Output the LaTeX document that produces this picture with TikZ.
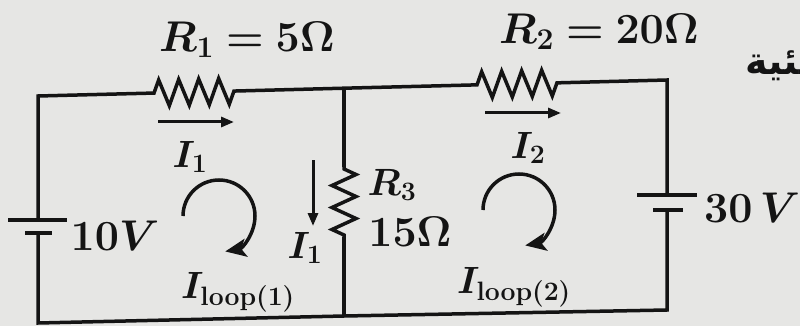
\RequirePackage{fix-cm}
\documentclass[tikz,border=0pt]{standalone}
\usepackage{fontspec}
\usepackage{amsmath}
\usepackage{bm}
\usetikzlibrary{arrows.meta,decorations.pathmorphing}
\newfontfamily\arabicfont[Script=Arabic]{DejaVu Sans}
\TeXXeTstate=1
\definecolor{bg}{RGB}{230,230,228}
\definecolor{ink}{RGB}{20,20,20}
\begin{document}
\begin{tikzpicture}[x=1pt,y=-1pt,
  wire/.style={line width=3.5pt, draw=ink},
  plate/.style={line width=4pt, draw=ink},
  resistor/.style={wire, decorate, decoration={zigzag, segment length=20pt, amplitude=13pt, pre length=2pt, post length=6pt}},
  resistorv/.style={wire, decorate, decoration={zigzag, segment length=22pt, amplitude=12pt, pre length=2pt, post length=2pt}},
  curr/.style={line width=3pt, draw=ink, -{Triangle[length=13pt,width=10pt]}},
  looparr/.style={line width=3.5pt, draw=ink, -{Stealth[length=21pt,width=18pt,inset=5pt]}},
  lab/.style={text=ink, inner sep=0pt, font=\fontsize{43}{50}\selectfont},
  slab/.style={text=ink, inner sep=0pt, font=\fontsize{38}{46}\selectfont}]
\clip (0,0) rectangle (800,326);
\fill[bg] (0,0) rectangle (800,326);
% corners and junctions
\coordinate (tl) at (38,96);
\coordinate (r1a) at (152,93.1);
\coordinate (r1b) at (240,90.9);
\coordinate (tm) at (344,88.2);
\coordinate (r2a) at (475,84.9);
\coordinate (r2b) at (563,82.7);
\coordinate (tr) at (667,80);
\coordinate (bl) at (38,323);
\coordinate (bm) at (344,316);
\coordinate (br) at (667,310);
\coordinate (r3a) at (344,167);
\coordinate (r3b) at (344,237);
% batteries
\coordinate (b1p) at (38,220);
\coordinate (b1n) at (38,233);
\coordinate (b2p) at (667,195);
\coordinate (b2n) at (667,210);
% wires
\draw[wire] (b1p) -- (tl) -- (r1a);
\draw[resistor] (r1a) -- (r1b);
\draw[wire] (r1b) -- (tm) -- (r2a);
\draw[resistor] (r2a) -- (r2b);
\draw[wire] (r2b) -- (tr) -- (b2p);
\draw[wire] (b2n) -- (br) -- (bm) -- (bl) -- (b1n);
\draw[wire] (tm) -- (r3a);
\draw[resistorv] (r3a) -- (r3b);
\draw[wire] (r3b) -- (bm);
% battery plates
\draw[plate] ([xshift=-30pt]b1p) -- ([xshift=29pt]b1p);
\draw[plate] ([xshift=-13pt]b1n) -- ([xshift=14pt]b1n);
\draw[plate] ([xshift=-30pt]b2p) -- ([xshift=30pt]b2p);
\draw[plate] ([xshift=-14pt]b2n) -- ([xshift=16pt]b2n);
% current arrows
\coordinate (a1s) at (158,122); \coordinate (a1e) at (234,122);
\coordinate (a2s) at (485,113); \coordinate (a2e) at (561,113);
\coordinate (a3s) at (313,160); \coordinate (a3e) at (313,226);
\draw[curr] (a1s) -- (a1e);
\draw[curr] (a2s) -- (a2e);
\draw[curr] (a3s) -- (a3e);
% loop arrows
\coordinate (c1) at (220,216);
\coordinate (c2) at (520,210);
\draw[looparr] (c1) ++(180:37) arc[start angle=180, end angle=440, radius=36];
\draw[looparr] (c2) ++(180:37) arc[start angle=180, end angle=440, radius=36];
% labels
\node[lab] (lR1) at (247,40) {$\bm{R_1 = 5\Omega}$};
\node[lab] (lR2) at (599,32) {$\bm{R_2 = 20\Omega}$};
\node[slab] (lI1a) at (190,157) {$\bm{I_1}$};
\node[slab] (lI2) at (528,148) {$\bm{I_2}$};
\node[slab] (lI1b) at (305,248) {$\bm{I_1}$};
\node[slab] (lR3) at (392,185) {$\bm{R_3}$};
\node[lab] (l15) at (410,232) {$\bm{15\Omega}$};
\node[lab] (l10) at (115,236) {$\bm{10V}$};
\node[lab,anchor=west] (l30) at (704,208) {$\bm{30\,V}$};
\node[slab] (lL1) at (238,292) {$\bm{I_{\mathbf{loop(1)}}}$};
\node[slab] (lL2) at (514,287) {$\bm{I_{\mathbf{loop(2)}}}$};
\node[text=ink, inner sep=0pt, anchor=west, font=\fontsize{38}{46}\selectfont] (ar) at (745,66) {\arabicfont\bfseries\beginR ـئية\endR};
\end{tikzpicture}
\end{document}
